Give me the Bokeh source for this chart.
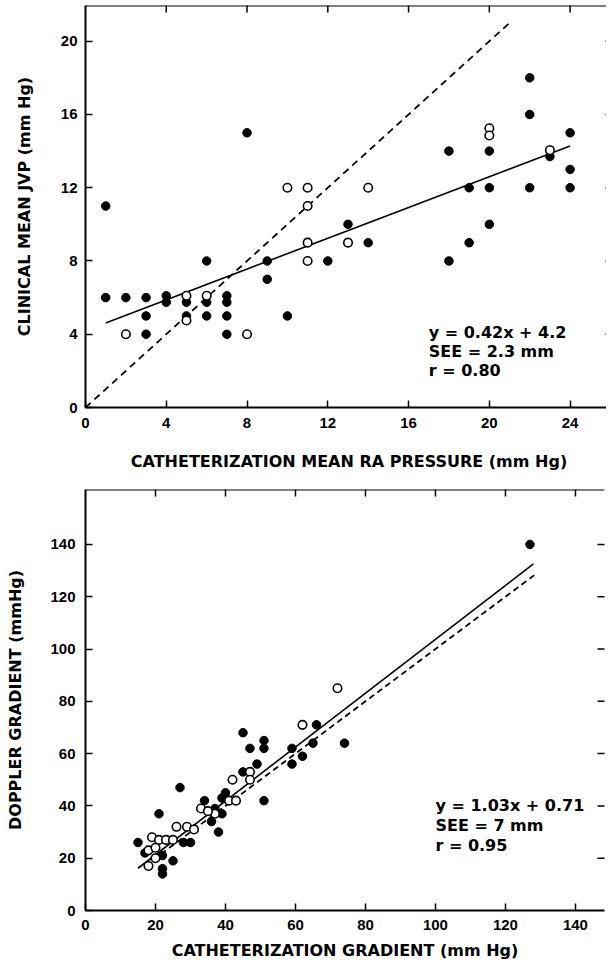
import math
from bokeh.plotting import figure
from bokeh.models import FixedTicker, Range1d, Label, Span
from bokeh.layouts import column
from bokeh.embed import file_html
from bokeh.resources import INLINE

# ---------------- Top chart: clinical JVP vs catheter RA pressure ----------------
jvp_filled_x = [1, 8, 6, 9, 12, 9, 13, 14,
                1, 2, 3, 4, 4, 5, 6, 7, 7,
                3, 5, 6, 7, 10, 3, 7,
                22, 22, 24, 18, 20, 23, 24, 19, 20, 22, 24, 20, 19, 18]
jvp_filled_y = [11, 15, 8, 8, 8, 7, 10, 9,
                6, 6, 6, 6.1, 5.75, 5.75, 5.75, 6.1, 5.75,
                5, 5, 5, 5, 5, 4, 4,
                18, 16, 15, 14, 14, 13.7, 13, 12, 12, 12, 12, 10, 9, 8]
jvp_open_x = [10, 11, 11, 11, 13, 11, 14, 20, 20, 23, 5, 6, 2, 8, 5]
jvp_open_y = [12, 12, 11, 9, 9, 8, 12, 15.25, 14.85, 14.05, 6.1, 6.1, 4, 4, 4.75]
jvp_fit = (0.42, 4.2)          # y = 0.42x + 4.2
jvp_fit_span = (1, 24)
jvp_identity_span = (0, 21)
jvp_stats = ["y = 0.42x + 4.2", "SEE = 2.3 mm", "r = 0.80"]
jvp_xticks = [0, 4, 8, 12, 16, 20, 24]
jvp_yticks = [0, 4, 8, 12, 16, 20]

# ---------------- Bottom chart: Doppler vs catheter gradient ----------------
dop_filled_x = [127, 74, 66, 65, 62, 59, 59, 51, 51, 47, 45, 49, 45, 51, 40, 39, 34,
                27, 37, 39, 36, 38, 21, 15, 28, 30, 17, 22, 25, 22, 22]
dop_filled_y = [140, 64, 71, 64, 59, 62, 56, 65, 62, 62, 68, 56, 53, 42, 45, 43, 42,
                47, 39, 37, 34, 30, 37, 26, 26, 26, 22, 21, 19, 16, 14]
dop_open_x = [72, 62, 47, 47, 42, 41, 43, 33, 37, 26, 29, 31, 19, 21, 23, 25, 18, 20, 18, 20, 35]
dop_open_y = [85, 71, 53, 50, 50, 42, 42, 39, 37, 32, 32, 31, 28, 27, 27, 27, 23, 24, 17, 20, 38]
dop_fit = (1.03, 0.71)         # y = 1.03x + 0.71
dop_fit_span = (15, 128)
dop_identity_span = (17, 129)
dop_stats = ["y = 1.03x + 0.71", "SEE = 7 mm", "r = 0.95"]
dop_xticks = [0, 20, 40, 60, 80, 100, 120, 140]
dop_yticks = [0, 20, 40, 60, 80, 100, 120, 140]

TICK_FONT = "Liberation Sans"
TITLE_FONT = "DejaVu Sans"


def style_axis(ax, ticks):
    ax.ticker = FixedTicker(ticks=ticks)
    ax.axis_line_color = "black"
    ax.axis_line_width = 2
    ax.major_tick_in = 7
    ax.major_tick_out = 0
    ax.major_tick_line_width = 1.5
    ax.major_tick_line_color = "black"
    ax.minor_tick_line_color = None
    ax.major_label_text_font = TICK_FONT
    ax.major_label_text_font_style = "bold"
    ax.major_label_text_font_size = "15px"
    ax.major_label_text_color = "black"
    ax.axis_label_text_font = TITLE_FONT
    ax.axis_label_text_font_style = "bold"
    ax.axis_label_text_font_size = "16px"
    ax.axis_label_text_color = "black"


def make_panel(xr, yr, fw, fh, borders, filled, opened, fit, fit_span, id_span,
               stats, stats_pos, xticks, yticks, xlabel, ylabel, std_x, std_y,
               dash):
    p = figure(frame_width=fw, frame_height=fh,
               x_range=Range1d(*xr), y_range=Range1d(*yr),
               output_backend="svg", toolbar_location=None,
               background_fill_color="white", border_fill_color="white")
    p.min_border_left, p.min_border_right, p.min_border_top, p.min_border_bottom = borders
    p.outline_line_color = None
    p.grid.visible = False

    style_axis(p.xaxis[0], xticks)
    p.xaxis[0].axis_label = xlabel
    p.xaxis[0].major_label_standoff = std_x[0]
    p.xaxis[0].axis_label_standoff = std_x[1]
    style_axis(p.yaxis[0], yticks)
    p.yaxis[0].axis_label = ylabel
    p.yaxis[0].major_label_standoff = std_y[0]
    p.yaxis[0].axis_label_standoff = std_y[1]

    # top border of the frame
    p.add_layout(Span(location=yr[1], dimension="width",
                      line_color="black", line_width=2))
    # inward ticks on top and right edges (half of each dash is clipped by the frame)
    top_t = [t for t in xticks if t > xr[0]]
    p.scatter(top_t, [yr[1]] * len(top_t), marker="dash", size=14,
              angle=math.pi / 2, line_color="black", line_width=1.5)
    right_t = [t for t in yticks if t > yr[0]]
    p.scatter([xr[1]] * len(right_t), right_t, marker="dash", size=14,
              line_color="black", line_width=1.5)

    # identity line (dashed) and regression line (solid)
    p.line([id_span[0], id_span[1]], [id_span[0], id_span[1]],
           line_color="black", line_width=1.8, line_dash=dash)
    m, b = fit
    p.line([fit_span[0], fit_span[1]], [m * fit_span[0] + b, m * fit_span[1] + b],
           line_color="black", line_width=1.6)

    p.scatter(filled[0], filled[1], size=8.5, marker="circle",
              fill_color="black", line_color="black", line_width=1)
    p.scatter(opened[0], opened[1], size=8.5, marker="circle",
              fill_color="white", line_color="black", line_width=1.6)

    sx, sy, dy = stats_pos
    for i, s in enumerate(stats):
        p.add_layout(Label(x=sx, y=sy - i * dy, text=s, text_font=TITLE_FONT,
                           text_font_style="bold", text_font_size="16px",
                           text_color="black", text_baseline="middle",
                           text_align="left"))
    return p


p1 = make_panel((0, 26.1), (0, 21.95), 527, 402, (77, 2, 5, 70),
                (jvp_filled_x, jvp_filled_y), (jvp_open_x, jvp_open_y),
                jvp_fit, jvp_fit_span, jvp_identity_span,
                jvp_stats, (17.0, 4.1, 1.05), jvp_xticks, jvp_yticks,
                "CATHETERIZATION MEAN RA PRESSURE (mm Hg)",
                "CLINICAL MEAN JVP (mm Hg)", (10, 21), (8, 24), "7 5")

p2 = make_panel((0, 148.3), (0, 161), 519, 421, (85, 2, 12, 59),
                (dop_filled_x, dop_filled_y), (dop_open_x, dop_open_y),
                dop_fit, dop_fit_span, dop_identity_span,
                dop_stats, (100, 40, 7.6), dop_xticks, dop_yticks,
                "CATHETERIZATION GRADIENT (mm Hg)",
                "DOPPLER GRADIENT (mmHg)", (9, 8), (10, 22), "6 4")

layout = column(p1, p2, spacing=0)
open("out.html", "w").write(file_html(layout, INLINE))
